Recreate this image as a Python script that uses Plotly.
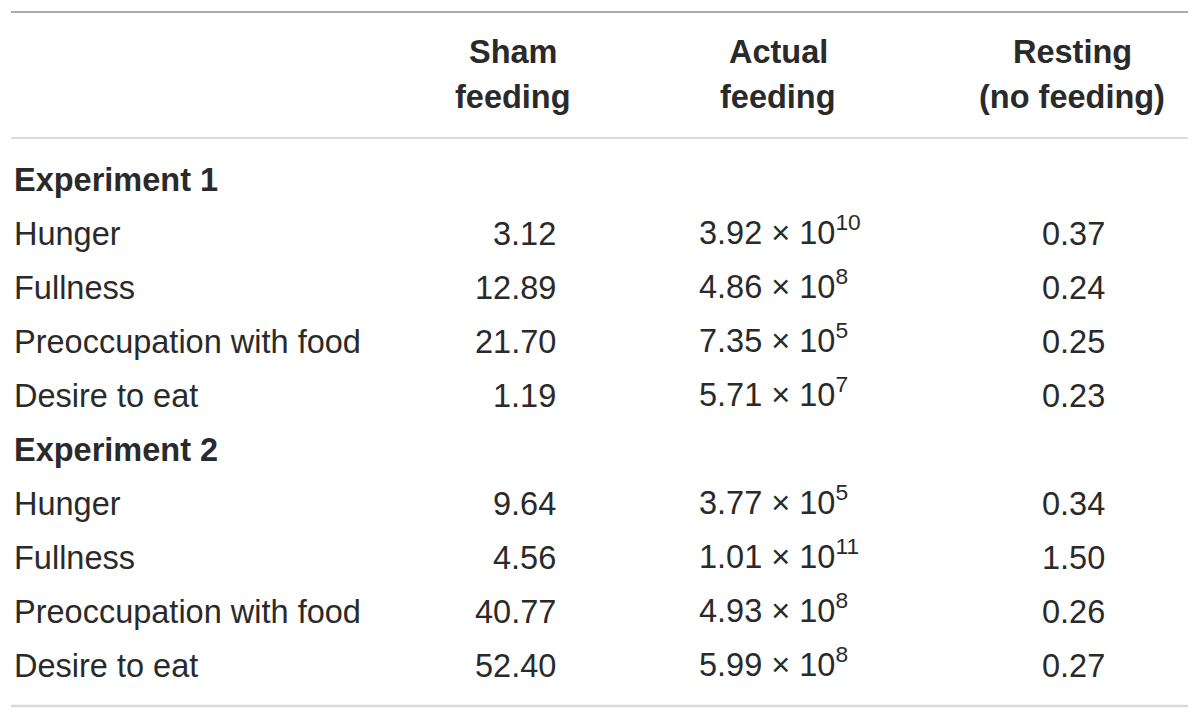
import plotly.graph_objects as go

header_lines = [["Sham", "feeding"], ["Actual", "feeding"], ["Resting", "(no feeding)"]]
groups = ["Experiment 1", "Experiment 2"]
measures = ["Hunger", "Fullness", "Preoccupation with food", "Desire to eat"]

sham = [[3.12, 12.89, 21.70, 1.19], [9.64, 4.56, 40.77, 52.40]]
actual_mant = [[3.92, 4.86, 7.35, 5.71], [3.77, 1.01, 4.93, 5.99]]
actual_exp = [[10, 8, 5, 7], [5, 11, 8, 8]]
resting = [[0.37, 0.24, 0.25, 0.23], [0.34, 1.50, 0.26, 0.27]]

FONT = "Liberation Sans"
TXT = "#2a2a2a"
FS = 32.5

fig = go.Figure()
ann = []

def add(x, y, text, anchor):
    ann.append(dict(x=x, y=y, text=text, xanchor=anchor, yanchor="middle",
                    showarrow=False, font=dict(family=FONT, size=FS, color=TXT)))

# header
hx = [513, 778, 1072]
for x, lines in zip(hx, header_lines):
    for j, t in enumerate(lines):
        add(x, [52, 97][j], "<b>" + t + "</b>", "center")

row_y = 180
step = 54
for g in range(len(groups)):
    add(12, row_y, "<b>" + groups[g] + "</b>", "left")
    row_y += step
    for i, m in enumerate(measures):
        add(12, row_y, m, "left")
        add(558, row_y, f"{sham[g][i]:.2f}", "right")
        add(697, row_y - 4, f"{actual_mant[g][i]:.2f} \u00d7 10<sup>{actual_exp[g][i]}</sup>", "left")
        add(1073, row_y, f"{resting[g][i]:.2f}", "center")
        row_y += step

shapes = [
    dict(type="line", x0=11, x1=1188, y0=12, y1=12, line=dict(color="#ababab", width=2)),
    dict(type="line", x0=11, x1=1188, y0=138, y1=138, line=dict(color="#dcdcdc", width=2)),
    dict(type="line", x0=11, x1=1188, y0=706, y1=706, line=dict(color="#d8d8d8", width=2.5)),
]
for s in shapes:
    s.update(xref="x", yref="y")

OFF = 8  # page body margin
fig.update_layout(
    width=1200, height=720,
    margin=dict(l=0, r=0, t=0, b=0),
    paper_bgcolor="white", plot_bgcolor="white",
    xaxis=dict(range=[OFF, 1200 + OFF], visible=False, fixedrange=True),
    yaxis=dict(range=[720 + OFF, OFF], visible=False, fixedrange=True),
    annotations=ann, shapes=shapes, showlegend=False,
)
fig.write_html("out.html", config={"displayModeBar": False})
